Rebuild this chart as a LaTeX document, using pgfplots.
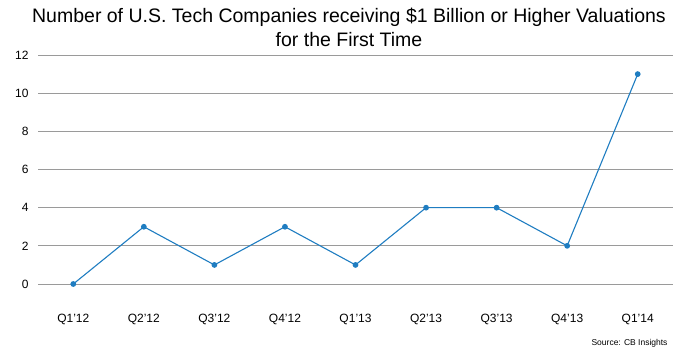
\documentclass[border=0pt]{standalone}
\usepackage{pgfplots}
\pgfplotsset{compat=1.18}
\usepackage{fontspec}
\setmainfont{Liberation Sans}
\definecolor{lineblue}{HTML}{1F7DC1}
\definecolor{gridgray}{HTML}{9A9A9A}
\begin{document}
\begin{tikzpicture}
\begin{axis}[
  name=ax,
  scale only axis, width=635pt, height=229pt,
  xmin=-0.5, xmax=8.5, ymin=0, ymax=12,
  axis line style={draw=none},
  major tick length=0pt,
  xtick={0,...,8},
  xticklabels={Q1'12,Q2'12,Q3'12,Q4'12,Q1'13,Q2'13,Q3'13,Q4'13,Q1'14},
  ytick={0,2,...,12},
  ymajorgrids, grid style={gridgray, line width=0.9pt},
  tick label style={font=\fontsize{12}{14}\selectfont},
  /pgf/number format/assume math mode=true,
  xticklabel style={anchor=center, yshift=-35pt},
  yticklabel style={anchor=east, xshift=-6pt},
  clip=false,
]
\addplot[lineblue, line width=1.1pt, mark=*, mark size=2.3pt, mark options={fill=lineblue, draw=lineblue}]
  coordinates {(0,0) (1,3) (2,1) (3,3) (4,1) (5,4) (6,4) (7,2) (8,11)};
\coordinate (sw) at (rel axis cs:0,0);
\end{axis}
\path[use as bounding box] ([shift={(-38pt,-73pt)}]sw) rectangle +(698pt,357pt);
\node[font=\fontsize{19.5}{23}\selectfont, align=center, inner sep=0pt] at ([shift={(311pt,257pt)}]sw) {Number of U.S. Tech Companies receiving \$1 Billion or Higher Valuations\\[1pt]for the First Time};
\node[font=\fontsize{8.5}{10}\selectfont, anchor=east] at ([shift={(633pt,-59pt)}]sw) {Source: CB Insights};
\end{tikzpicture}
\end{document}
